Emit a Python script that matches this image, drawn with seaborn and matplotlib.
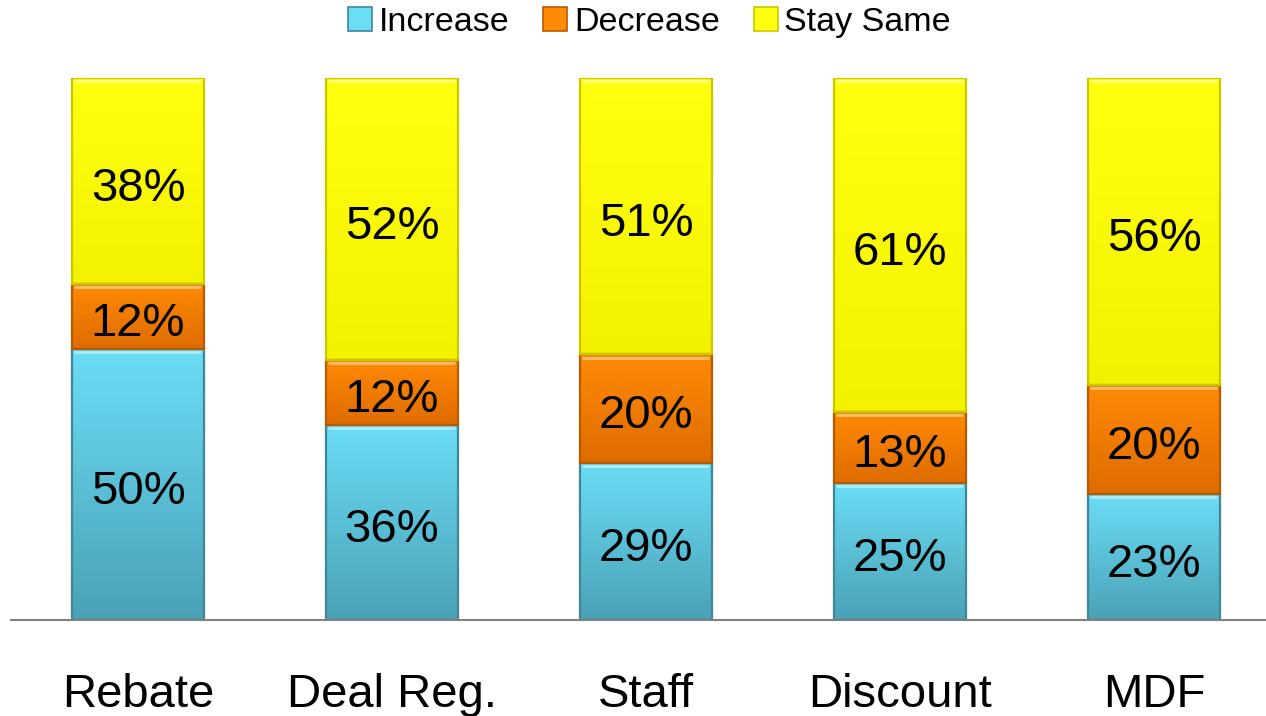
import numpy as np
import pandas as pd
import matplotlib
matplotlib.use("Agg")
import matplotlib.pyplot as plt
import seaborn as sns
from matplotlib.patches import Patch
from matplotlib.colors import LinearSegmentedColormap

categories = ["Rebate", "Deal Reg.", "Staff", "Discount", "MDF"]
increase = [50, 36, 29, 25, 23]
decrease = [12, 12, 20, 13, 20]
stay_same = [38, 52, 51, 61, 56]
series_names = ["Increase", "Decrease", "Stay Same"]

sns.set_theme(style="white")
plt.rcParams["font.family"] = ["Liberation Sans", "DejaVu Sans"]
plt.rcParams["text.color"] = "black"
plt.rcParams["xtick.color"] = "black"

df = pd.DataFrame({"category": categories, "Increase": increase,
                   "Decrease": decrease, "Stay Same": stay_same})
totals = df[series_names].sum(axis=1)

# light/dark gradient pairs for each series (top, bottom)
grad = {
    "Increase": ("#6BDDF5", "#4AA2B7"),
    "Decrease": ("#FF8A05", "#DF6C00"),
    "Stay Same": ("#FFFF10", "#F2F200"),
}
edge = {"Increase": "#3F8797", "Decrease": "#B85A00", "Stay Same": "#C8C800"}

fig = plt.figure(figsize=(12.66, 7.16), dpi=100)
ax = fig.add_axes([11 / 1266, 96 / 716, 1255 / 1266, 542 / 716])

bottom = np.zeros(len(df))
for name in series_names:
    share = df[name] / totals
    sns.barplot(x=df["category"], y=share, bottom=bottom, ax=ax,
                color=grad[name][0], width=0.52, linewidth=0, saturation=1)
    bottom = bottom + share.values

ax.set_xlim(-0.5, 4.441)
ax.set_ylim(0, 1)

# repaint each segment with a vertical gradient and a bevelled rim
patches = list(ax.patches)
for i, name in enumerate(series_names):
    cmap = LinearSegmentedColormap.from_list(name, [grad[name][1], grad[name][0]])
    for j in range(len(categories)):
        p = patches[i * len(categories) + j]
        x0, y0 = p.get_x(), p.get_y()
        w, h = p.get_width(), p.get_height()
        p.set_facecolor("none")
        img = ax.imshow(np.linspace(0, 1, 64).reshape(-1, 1), cmap=cmap,
                        extent=(x0, x0 + w, y0, y0 + h), origin="lower",
                        aspect="auto", zorder=1.5, interpolation="bilinear")
        img.set_clip_path(p)
        ax.add_patch(plt.Rectangle((x0, y0), w, h, fill=False,
                                   edgecolor=edge[name], linewidth=1.6, zorder=2))
        ax.plot([x0 + 0.01, x0 + w - 0.01], [y0 + h - 0.006] * 2,
                color="white", alpha=0.45, linewidth=2, zorder=2.1,
                solid_capstyle="butt")
        ax.text(x0 + w / 2, y0 + h / 2 - 0.005, f"{df[name][j]}%", ha="center",
                va="center_baseline", fontsize=34, color="black", zorder=3)

ax.set_xlim(-0.5, 4.441)
ax.set_ylim(0, 1)
ax.set_xlabel("")
ax.set_ylabel("")
ax.set_yticks([])
ax.tick_params(axis="x", labelsize=34, pad=38, length=0, labelcolor="black")
for s in ["top", "right", "left"]:
    ax.spines[s].set_visible(False)
ax.spines["bottom"].set_color("#808080")
ax.spines["bottom"].set_linewidth(1.5)

handles = [Patch(facecolor=grad[n][0], edgecolor=edge[n], linewidth=1.2, label=n)
           for n in series_names]
fig.legend(handles=handles, loc="center", bbox_to_anchor=(0.513, 0.969), ncol=3,
           frameon=False, fontsize=24.5, handlelength=0.7, handleheight=0.7,
           handletextpad=0.2, columnspacing=1.0, labelcolor="black")

fig.savefig("out.png", dpi=100)
